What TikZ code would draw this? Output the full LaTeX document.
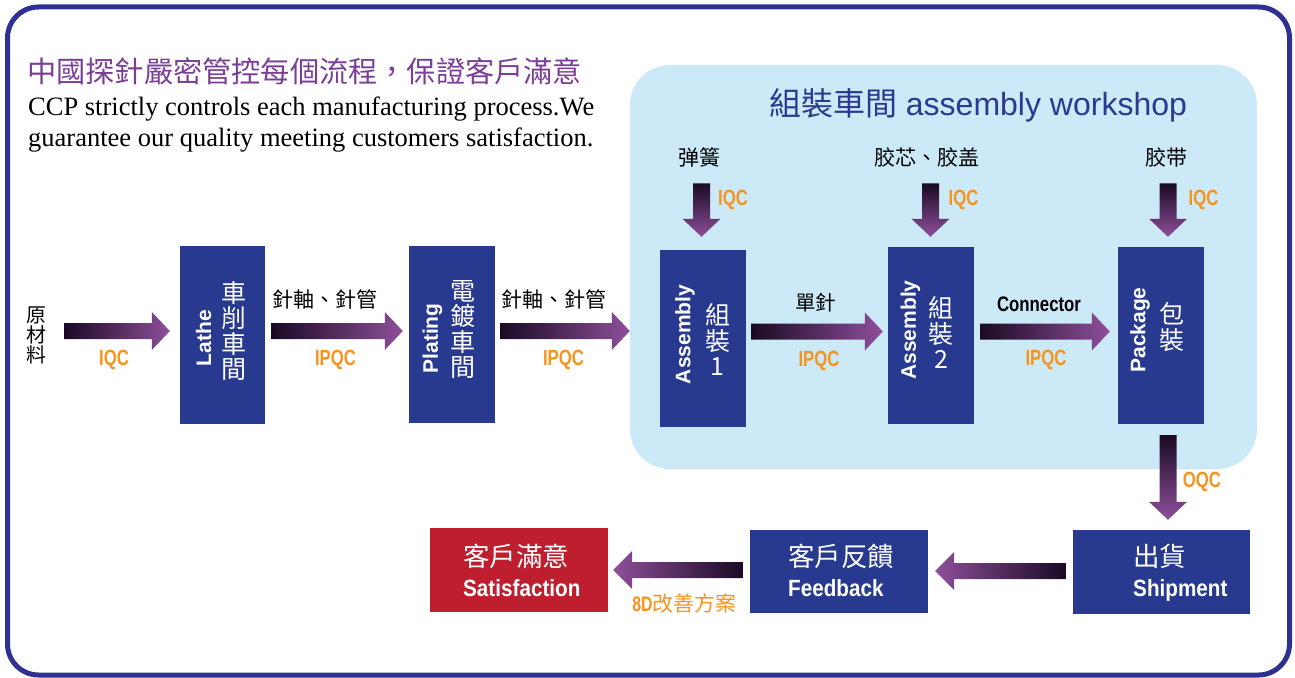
\documentclass[tikz,border=0pt]{standalone}
\usepackage{fontspec}
\usetikzlibrary{calc}
\setmainfont{Liberation Serif}
\newfontfamily\cjk{Noto Sans CJK TC}
\newfontfamily\sans{Liberation Sans}
\newfontfamily\condA[FakeStretch=0.76]{Liberation Sans}
\newfontfamily\condC[FakeStretch=0.80]{Liberation Sans}
\newfontfamily\condB[FakeStretch=0.88]{Liberation Sans}
\newcommand\fs[2]{\fontsize{#1}{#2}\selectfont}
\definecolor{frameblue}{HTML}{2E3192}
\definecolor{boxblue}{HTML}{283A8F}
\definecolor{panelblue}{HTML}{CBE9F6}
\definecolor{qcorange}{HTML}{F7941D}
\definecolor{titlepurple}{HTML}{7B3F98}
\definecolor{boxred}{HTML}{BE1E2D}
\definecolor{adark}{HTML}{1A0A24}
\definecolor{apurp}{HTML}{8E4F9A}
\definecolor{wtitle}{HTML}{2B3990}
% right-pointing gradient arrow: #1 tail, #2 tip (y taken from tail)
\newcommand\rarr[2]{\path[left color=adark,right color=apurp] let \p1=#1, \p2=#2 in
  (\x1,\y1+8pt) -- (\x2-18pt,\y1+8pt) -- (\x2-18pt,\y1+19pt) -- (\x2,\y1) --
  (\x2-18pt,\y1-19pt) -- (\x2-18pt,\y1-8pt) -- (\x1,\y1-8pt) -- cycle;}
% left-pointing gradient arrow
\newcommand\larr[2]{\path[left color=apurp,right color=adark] let \p1=#1, \p2=#2 in
  (\x1,\y1+8pt) -- (\x2+19pt,\y1+8pt) -- (\x2+19pt,\y1+19pt) -- (\x2,\y1) --
  (\x2+19pt,\y1-19pt) -- (\x2+19pt,\y1-8pt) -- (\x1,\y1-8pt) -- cycle;}
% down-pointing gradient arrow (x taken from tail)
\newcommand\darr[2]{\path[top color=adark,bottom color=apurp] let \p1=#1, \p2=#2 in
  (\x1-8.5pt,\y1) -- (\x1-8.5pt,\y2+18pt) -- (\x1-19pt,\y2+18pt) -- (\x1,\y2) --
  (\x1+19pt,\y2+18pt) -- (\x1+8.5pt,\y2+18pt) -- (\x1+8.5pt,\y1) -- cycle;}
\tikzset{
  box/.style={fill=boxblue, draw=none, inner sep=0},
  rot/.style={rotate=90, text=white, font=\sans\bfseries\fs{21}{24}, inner sep=0},
  stack/.style={text=white, font=\cjk\fs{25}{25.5}, align=center, inner sep=0},
  qc/.style={text=qcorange, font=\condA\bfseries\fs{22}{24}, inner sep=0},
  lab/.style={text=black, font=\cjk\fs{21}{22}, inner sep=0},
  btzh/.style={anchor=west, text=white, font=\cjk\fs{26.5}{28}, inner sep=0},
  bten/.style={anchor=base west, text=white, font=\condB\bfseries\fs{23.5}{26}, inner sep=0},
}
\begin{document}
\begin{tikzpicture}[x=1pt,y=-1pt]
\useasboundingbox (0,0) rectangle (1295,677);
\fill[white] (0,0) rectangle (1295,677);
\draw[frameblue, line width=5, rounded corners=31] (7.5,7) rectangle (1289.5,675);
\fill[panelblue, rounded corners=40] (630,65) rectangle (1257,469);

% titles
\node[anchor=west, inner sep=0, text=titlepurple, font=\cjk\fs{29.2}{32}] (title) at (27,71) {中國探針嚴密管控每個流程，保證客戶滿意};
\node[anchor=north west, inner sep=0, align=left, font=\fs{26.5}{31}] (sub) at (28,97) {CCP strictly controls each manufacturing process.We\\guarantee our quality meeting customers satisfaction.};
\node[text=wtitle, font=\sans\fs{32}{35}, inner sep=0] (ptitle) at (978,105) {{\cjk 組裝車間} assembly workshop};

% boxes
\node[box, minimum width=85, minimum height=178] (lathe) at (222.5,335) {};
\node[box, minimum width=86, minimum height=177] (plating) at (452,334.5) {};
\node[box, minimum width=86, minimum height=177] (asm1) at (703,338.5) {};
\node[box, minimum width=86, minimum height=177] (asm2) at (931,335.5) {};
\node[box, minimum width=86, minimum height=177] (pkg) at (1161,335.5) {};
\node[box, minimum width=177, minimum height=84] (ship) at (1161.5,572) {};
\node[box, minimum width=178, minimum height=83] (fb) at (839,571.5) {};
\node[box, fill=boxred, minimum width=178, minimum height=84] (sat) at (519,570) {};

% box texts
\node[rot] (latheen) at (203.5,338) {Lathe};
\node[stack] (lathezh) at (233.5,331) {車\\削\\車\\間};
\node[rot] (platingen) at (432.5,338.5) {Plating};
\node[stack] (platingzh) at (463,329.5) {電\\鍍\\車\\間};
\node[rot] (asmaen) at (685,334.5) {Assembly};
\node[stack] (asmazh) at (717.5,339.5) {組\\裝\\1};
\node[rot] (asmben) at (910.5,330) {Assembly};
\node[stack] (asmbzh) at (941,332.5) {組\\裝\\2};
\node[rot] (pkgen) at (1140,330) {Package};
\node[stack] (pkgzh) at (1171.5,327) {包\\裝};

\node[btzh] (sat1) at (463,556) {客戶滿意};
\node[bten] (sat2) at (463,596) {Satisfaction};
\node[btzh] (fb1) at (788,556) {客戶反饋};
\node[bten] (fb2) at (788,596) {Feedback};
\node[btzh] (ship1) at (1133,556) {出貨};
\node[bten] (ship2) at (1133,596) {Shipment};

% labels
\node[text=black, font=\cjk\fs{20}{20}, align=center, inner sep=0] (raw) at (37,335) {原\\材\\料};
\node[lab] (shaft1) at (325,299.5) {針軸、針管};
\node[lab] (shaft2) at (553.5,299.5) {針軸、針管};
\node[lab, font=\cjk\fs{20.5}{22}] (single) at (815.5,302.5) {單針};
\node[text=black, font=\condC\bfseries\fs{21}{24}, inner sep=0] (conn) at (1039,304.5) {Connector};
\node[lab] (spring) at (699.5,157.5) {弹簧};
\node[lab] (glue) at (926.5,157.5) {胶芯、胶盖};
\node[lab] (tape) at (1166,157.5) {胶带};

\node[qc] (q1) at (114,360) {IQC};
\node[qc] (q2) at (335.5,360) {IPQC};
\node[qc] (q3) at (563.5,360) {IPQC};
\node[qc] (q4) at (819,361) {IPQC};
\node[qc] (q5) at (1046,359.5) {IPQC};
\node[qc] (q6) at (733,200) {IQC};
\node[qc] (q7) at (963.5,200) {IQC};
\node[qc] (q8) at (1203.5,200) {IQC};
\node[qc] (q9) at (1202,481.5) {OQC};
\node[text=qcorange, inner sep=0, font=\fs{21}{22}] (eightd) at (684.5,603.5) {{\condA\bfseries 8D}{\cjk 改善方案}};

% connectors
\rarr{($(raw.east)+(17,-4)$)}{($(lathe.west)+(-10,0)$)}
\rarr{($(lathe.east)+(6,-4)$)}{($(plating.west)+(-6,0)$)}
\rarr{($(plating.east)+(5,-3.5)$)}{($(asm1.west)+(-30,0)$)}
\rarr{($(asm1.east)+(5,-7)$)}{($(asm2.west)+(-5,0)$)}
\rarr{($(asm2.east)+(6,-4)$)}{($(pkg.west)+(-8,0)$)}
\darr{($(spring.south)+(2,16)$)}{($(asm1.north)+(0,-13)$)}
\darr{($(glue.south)+(4,16)$)}{($(asm2.north)+(0,-10)$)}
\darr{($(tape.south)+(2,16)$)}{($(pkg.north)+(0,-10)$)}
\darr{($(pkg.south)+(7,11)$)}{($(ship.north)+(0,-10)$)}
\larr{($(ship.west)+(-7,-1)$)}{($(fb.east)+(7,0)$)}
\larr{($(fb.west)+(-7,-1.5)$)}{($(sat.east)+(5,0)$)}
\end{tikzpicture}
\end{document}
